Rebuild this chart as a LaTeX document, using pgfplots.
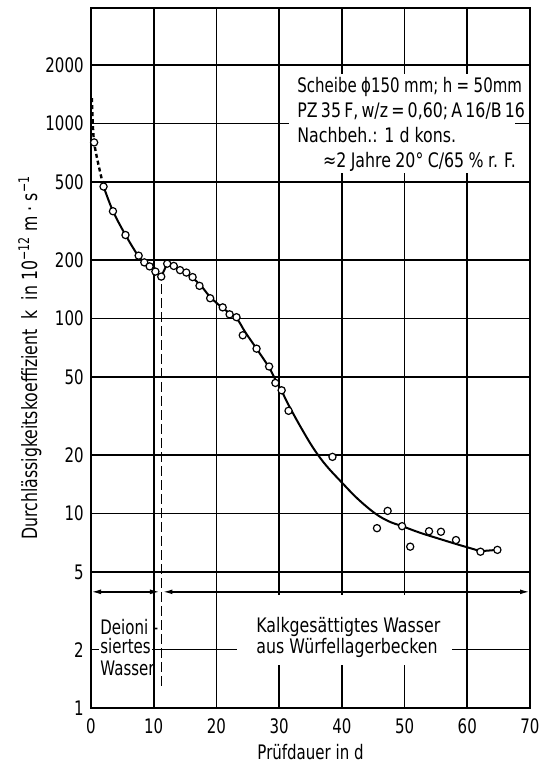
\documentclass[border=0pt]{standalone}
\usepackage{fontspec}
\setmainfont{DejaVu Sans}[FakeStretch=0.75]
\newfontfamily\boxfont{DejaVu Sans}[FakeStretch=0.79]
\usepackage{pgfplots}
\pgfplotsset{compat=1.18}
\usetikzlibrary{arrows.meta}
\begin{document}
\begin{tikzpicture}
\begin{axis}[
  scale only axis, width=219.5pt, height=350pt,
  xmin=0, xmax=70, ymode=log, ymin=1, ymax=3900,
  xtick={0,10,20,30,40,50,60,70},
  xticklabels={0,10,20,30,40,50,60,70},
  ytick={1,2,5,10,20,50,100,200,500,1000,2000},
  yticklabels={1,2,5,10,20,50,100,200,500,1000,2000},
  minor ytick={}, minor xtick={},
  major tick length=0pt,
  grid=major, major grid style={black, line width=0.8pt},
  axis line style={line width=1pt},
  xticklabel style={inner sep=0pt, anchor=north, yshift=-5pt},
  yticklabel style={inner sep=0pt, anchor=east, xshift=-3.5pt},
  clip=false,
]
% bounding box
\path (rel axis cs:-0.2073,-0.0824) rectangle (rel axis cs:1.0364,1.0119);
% white areas interrupting the grid
\fill[white] (axis cs:31.5,560) rectangle (axis cs:67.6,1800);
\fill[white] (axis cs:23.3,1.67) rectangle (axis cs:57.6,3.81);
\fill[white] (axis cs:1.3,1.4) rectangle (axis cs:9.8,3.5);
% curves
\addplot[black, line width=1.2pt, dash pattern=on 2pt off 1.5pt, smooth] coordinates {(0.15,1350)(0.5,800)(2,475)};
\addplot[black, line width=1pt, smooth, tension=0.5] coordinates {(2,475)(3.5,355)(5.5,268)(7.5,210)(8.5,194)(9.35,185)(10.27,174)};
\addplot[black, line width=1pt] coordinates {(10.27,174)(11.2,164)(12.15,191)};
\addplot[black, line width=1pt, smooth, tension=0.6] coordinates {(12.15,191)(13.2,186)(15.2,171)(17.3,150)(19,129)(21,113)(23.2,100)(24.6,85)(26.4,70)(28.4,56)(29.4,48.5)(30.4,42.5)(31.5,36)(33.5,27.5)(35.5,21.5)(37.5,17.6)(40,14.4)(42.5,11.9)(45.3,10.0)(47.5,9.1)(49.6,8.6)(52.5,7.95)(55,7.5)(58,7.0)(60,6.7)(62.1,6.4)};
\addplot[black, line width=1pt] coordinates {(62.1,6.4)(64.8,6.5)};
% measured points
\addplot[only marks, mark=*, mark size=1.8pt, mark options={fill=white, draw=black, line width=0.6pt}] coordinates {
(0.5,800)(2,475)(3.5,355)(5.5,268)(7.6,210)(8.5,194)(9.35,185)(10.27,174)(11.2,164)
(12.15,191)(13.2,186)(14.2,177)(15.2,172)(16.2,163)(17.3,147)(19.0,127)(21.0,114)
(22.1,105)(23.2,101.5)(24.2,82)(26.4,70)(28.4,56.7)(29.4,46.7)(30.4,42.8)(31.5,33.6)
(38.5,19.5)(45.6,8.4)(47.3,10.3)(49.6,8.6)(50.9,6.75)(53.9,8.1)(55.8,8.05)(58.2,7.3)
(62.1,6.36)(64.8,6.5)};
% dashed separator
\draw[line width=0.7pt, dash pattern=on 5pt off 2pt] (axis cs:11.2,150) -- (axis cs:11.2,1.27);
% arrows
\draw[{Latex[length=5pt,width=2.4pt]}-{Latex[length=5pt,width=2.4pt]}, line width=0.8pt] (axis cs:0,3.96) -- (axis cs:11.0,3.96);
\draw[{Latex[length=5pt,width=2.4pt]}-{Latex[length=5pt,width=2.4pt]}, line width=0.8pt] (axis cs:11.4,3.96) -- (axis cs:70,3.96);
% texts
\node[anchor=base west, inner sep=0pt] at (axis cs:32.85,1447) {\spaceskip=2.2pt\relax Scheibe ϕ150 mm; h = 50mm};
\node[anchor=base west, inner sep=0pt, font=\boxfont] at (axis cs:32.85,1077) {\spaceskip=1.6pt\relax PZ 35 F, w/z = 0,60; A 16/B 16};
\node[anchor=base west, inner sep=0pt, font=\boxfont] at (axis cs:32.85,802) {Nachbeh.: 1 d kons.};
\node[anchor=base east, inner sep=0pt, font=\boxfont] at (axis cs:67.8,597) {\spaceskip=2.2pt\relax ≈2 Jahre 20° C/65 \% r. F.};
\node[anchor=base west, inner sep=0pt] at (axis cs:1.44,2.38) {Deioni -};
\node[anchor=base west, inner sep=0pt] at (axis cs:1.44,1.90) {siertes};
\node[anchor=base west, inner sep=0pt] at (axis cs:1.44,1.48) {Wasser};
\node[anchor=base west, inner sep=0pt, font=\boxfont] at (axis cs:26.3,2.46) {Kalkgesättigtes Wasser};
\node[anchor=base west, inner sep=0pt, font=\boxfont] at (axis cs:26.3,1.90) {aus Würfellagerbecken};
% axis labels
\node[rotate=90, anchor=base, inner sep=0pt] at (rel axis cs:-0.123,0.501) {\fontsize{10.5}{12}\selectfont Durchlässigkeitskoeffizient\hspace{5pt}k\hspace{5pt}in 10\textsuperscript{−12} m · s\textsuperscript{−1}};
\node[anchor=center, inner sep=0pt] at (rel axis cs:0.5,-0.063) {Prüfdauer in d};
\end{axis}
\end{tikzpicture}
\end{document}
